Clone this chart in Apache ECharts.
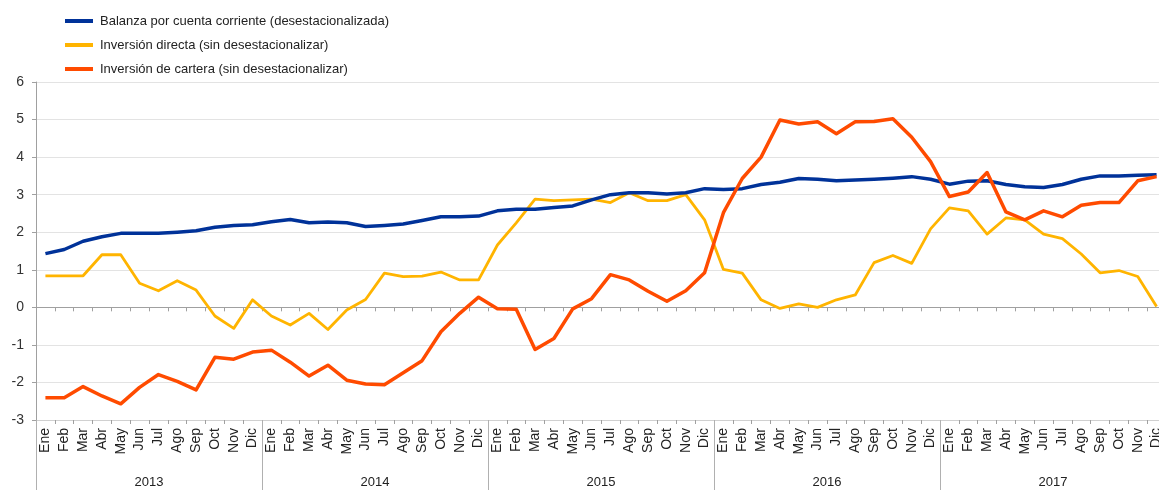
<!DOCTYPE html>
<html>
<head>
<meta charset="utf-8">
<script src="https://cdn.jsdelivr.net/npm/echarts@6/dist/echarts.min.js"></script>
<style>
html,body{margin:0;padding:0;background:#fff;}
#chart{width:1159px;height:490px;}
</style>
</head>
<body>
<div id="chart"></div>
<script>
const monthNames = ['Ene','Feb','Mar','Abr','May','Jun','Jul','Ago','Sep','Oct','Nov','Dic'];
const years = ['2013','2014','2015','2016','2017'];
const seriesNames = [
  'Balanza por cuenta corriente (desestacionalizada)',
  'Inversión directa (sin desestacionalizar)',
  'Inversión de cartera (sin desestacionalizar)'
];
const balanza = [
  1.43,1.54,1.76,1.88,1.97,1.97,1.97,2.00,2.04,2.13,2.18,2.20,
  2.28,2.34,2.25,2.27,2.25,2.15,2.18,2.22,2.31,2.41,2.41,2.43,
  2.57,2.61,2.61,2.66,2.70,2.86,3.00,3.05,3.05,3.02,3.05,3.16,
  3.14,3.16,3.27,3.33,3.43,3.41,3.37,3.39,3.41,3.44,3.48,3.41,
  3.28,3.36,3.37,3.27,3.21,3.19,3.27,3.41,3.50,3.50,3.52,3.53
];
const directa = [
  0.84,0.84,0.84,1.40,1.40,0.64,0.44,0.71,0.46,-0.23,-0.56,0.20,
  -0.23,-0.47,-0.16,-0.59,-0.07,0.21,0.91,0.82,0.83,0.94,0.73,0.73,
  1.66,2.25,2.88,2.84,2.86,2.88,2.79,3.05,2.84,2.84,3.00,2.33,
  1.01,0.91,0.20,-0.03,0.09,0.00,0.20,0.33,1.19,1.38,1.17,2.09,
  2.65,2.57,1.95,2.38,2.33,1.95,1.83,1.42,0.92,0.98,0.82,0.02
];
const cartera = [
  -2.41,-2.41,-2.11,-2.36,-2.57,-2.13,-1.79,-1.97,-2.20,-1.33,-1.38,-1.19,
  -1.14,-1.46,-1.83,-1.54,-1.94,-2.04,-2.06,-1.74,-1.42,-0.65,-0.16,0.27,
  -0.04,-0.05,-1.12,-0.83,-0.04,0.23,0.87,0.73,0.43,0.16,0.44,0.92,
  2.52,3.43,4.00,4.99,4.88,4.94,4.62,4.94,4.95,5.02,4.53,3.88,
  2.95,3.07,3.59,2.54,2.33,2.57,2.41,2.72,2.79,2.79,3.37,3.48
];
const yTicks = {min:-3, max:6, interval:1};

const months = [];
years.forEach(y => monthNames.forEach(m => months.push(m + ' ' + y)));

const colors = ['#003299','#ffb400','#ff4b00'];
const font = '"Liberation Sans", Arial, sans-serif';

const chart = echarts.init(document.getElementById('chart'), null, {renderer:'canvas'});
chart.setOption({
  animation:false,
  color:colors,
  legend:{
    orient:'vertical', left:60, top:9,
    icon:'rect', itemWidth:28, itemHeight:4, itemGap:10,
    textStyle:{fontFamily:font, fontSize:13, color:'#222', lineHeight:14, padding:[0,0,0,2]},
    data:seriesNames
  },
  grid:{left:36, right:-7, top:82, bottom:70, outerBoundsMode:'none', containLabel:false},
  xAxis:[
    {type:'category', data:months, position:'bottom', boundaryGap:true,
     axisLine:{onZero:true, lineStyle:{color:'#a0a0a0', width:1}},
     axisTick:{show:true, interval:0, length:4, lineStyle:{color:'#a0a0a0'}},
     axisLabel:{show:false}, splitLine:{show:false}},
    {type:'category', data:months, position:'bottom', boundaryGap:true,
     axisLine:{onZero:false, show:true, lineStyle:{color:'#d0d0d0'}},
     axisTick:{show:true, interval:0, length:4, lineStyle:{color:'#a0a0a0'}},
     axisLabel:{interval:0, rotate:90, margin:8, fontFamily:font, fontSize:14, color:'#222',
       formatter:v => v.split(' ')[0]},
     splitLine:{show:false}},
    {type:'category', data:years, position:'bottom', boundaryGap:true,
     axisLine:{onZero:false, show:false},
     axisTick:{show:true, interval:0, length:70, lineStyle:{color:'#b0b0b0'}},
     axisLabel:{interval:0, margin:56, fontFamily:font, fontSize:13, color:'#222'},
     splitLine:{show:false}}
  ],
  yAxis:{
    type:'value', min:yTicks.min, max:yTicks.max, interval:yTicks.interval,
    axisLine:{show:true, lineStyle:{color:'#a0a0a0'}},
    axisTick:{show:true, length:4, lineStyle:{color:'#a0a0a0'}},
    axisLabel:{fontFamily:font, fontSize:14, color:'#333', margin:12},
    splitLine:{show:true, lineStyle:{color:'#e3e3e3', width:1}}
  },
  series:[
    {name:seriesNames[0], type:'line', data:balanza, xAxisIndex:0, symbol:'none',
     lineStyle:{width:3.5, color:colors[0], join:'round'}, z:3},
    {name:seriesNames[1], type:'line', data:directa, xAxisIndex:0, symbol:'none',
     lineStyle:{width:2.8, color:colors[1], join:'round'}, z:2},
    {name:seriesNames[2], type:'line', data:cartera, xAxisIndex:0, symbol:'none',
     lineStyle:{width:3.5, color:colors[2], join:'round'}, z:4}
  ]
});
</script>
</body>
</html>
